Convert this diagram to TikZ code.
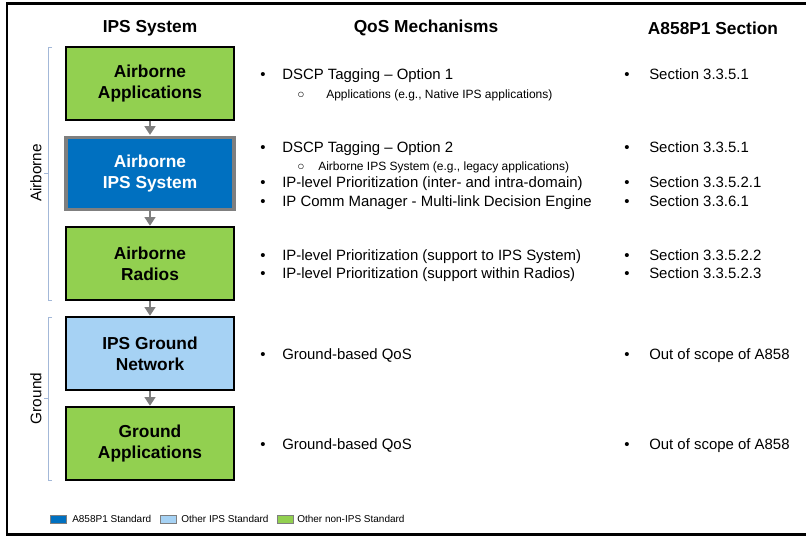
\documentclass[tikz,border=0pt]{standalone}
\usepackage{fontspec}
\setmainfont{Liberation Sans}
\usetikzlibrary{arrows.meta}
\definecolor{gfill}{HTML}{92D050}
\definecolor{bfill}{HTML}{0070C0}
\definecolor{lbfill}{HTML}{A6D2F4}
\definecolor{brk}{HTML}{A3B8D8}
\definecolor{arr}{HTML}{7F7F7F}
\begin{document}
\begin{tikzpicture}[x=0.75pt,y=-0.75pt,
  sysbox/.style={draw=black,line width=1.1pt,minimum width=126pt,minimum height=54.5pt,
     align=center,font=\fontsize{13}{16}\selectfont\bfseries,inner sep=0pt},
  hdr/.style={font=\fontsize{13}{16}\selectfont\bfseries,anchor=center},
  item/.style={anchor=west,font=\fontsize{11.2}{13}\selectfont,inner sep=0pt,text height=1.6ex,text depth=.35ex},
  subitem/.style={anchor=west,font=\fontsize{9}{11}\selectfont,inner sep=0pt,text height=1.6ex,text depth=.35ex},
  flow/.style={draw=arr,line width=2.2pt,-{Triangle[length=6.5pt,width=8pt]},shorten >=0.5pt},
  brace/.style={draw=brk,line width=0.6pt},
  side/.style={font=\fontsize{11.5}{13}\selectfont,rotate=90,anchor=center},
  leg/.style={draw=arr,line width=0.6pt,minimum width=12pt,minimum height=6pt,inner sep=0pt},
  legtxt/.style={anchor=west,font=\fontsize{7.5}{9}\selectfont,inner sep=0pt}]
\useasboundingbox (0,0) rectangle (806,537);
\fill[white] (0,0) rectangle (806,537);
% frame
\draw[line width=1.6pt] (806,3.5) -- (7,3.5) -- (7,534.5) -- (806,534.5);
% headers
\node[hdr] (h1) at (150,28) {IPS System};
\node[hdr] (h2) at (426,28) {QoS Mechanisms};
\node[hdr] (h3) at (713,28) {A858P1 Section};
% boxes
\node[sysbox,fill=gfill] (b1) at (150,83.5) {Airborne\\Applications};
\node[sysbox,fill=bfill,draw=arr,line width=2.4pt,text=white] (b2) at (150,173.5) {Airborne\\IPS System};
\node[sysbox,fill=gfill] (b3) at (150,263.5) {Airborne\\Radios};
\node[sysbox,fill=lbfill] (b4) at (150,353.5) {IPS Ground\\Network};
\node[sysbox,fill=gfill] (b5) at (150,443.5) {Ground\\Applications};
\draw[flow] (b1.south) -- (b2.north);
\draw[flow] (b2.south) -- (b3.north);
\draw[flow] (b3.south) -- (b4.north);
\draw[flow] (b4.south) -- (b5.north);
% brackets
\draw[brace] (52,47) -- (48,47) -- (48,300) -- (52,300);
\draw[brace] (48,173) -- (44,173);
\node[side] (air) at (36,173) {Airborne};
\draw[brace] (52,317) -- (48,317) -- (48,480) -- (52,480);
\draw[brace] (48,398.5) -- (44,398.5);
\node[side] (gnd) at (36,398.5) {Ground};
% middle column
\foreach \y/\t [count=\i] in {75/{DSCP Tagging – Option 1},148/{DSCP Tagging – Option 2},
  183/{IP-level Prioritization (inter- and intra-domain)},202/{IP Comm Manager - Multi-link Decision Engine},
  256/{IP-level Prioritization (support to IPS System)},274/{IP-level Prioritization (support within Radios)},
  355/{Ground-based QoS},445/{Ground-based QoS}}{
  \node[item] (mb\i) at (260,\y) {•};
  \node[item] (m\i) at (282,\y) {\t};
}
\node[subitem] (so1) at (297,94) {○};
\node[subitem] (s1) at (326,94) {Applications (e.g., Native IPS applications)};
\node[subitem] (so2) at (297,166) {○};
\node[subitem] (s2) at (318,166) {Airborne IPS System (e.g., legacy applications)};
% right column
\foreach \y/\t [count=\i] in {75/{Section 3.3.5.1},148/{Section 3.3.5.1},183/{Section 3.3.5.2.1},
  202/{Section 3.3.6.1},256/{Section 3.3.5.2.2},274/{Section 3.3.5.2.3},
  355/{Out of scope of A858},445/{Out of scope of A858}}{
  \node[item] (rb\i) at (624,\y) {•};
  \node[item] (r\i) at (649,\y) {\t};
}
% legend
\node[leg,fill=bfill] (l1) at (58,519) {};
\node[legtxt] (lt1) at (72,519) {A858P1 Standard};
\node[leg,fill=lbfill] (l2) at (168.5,519) {};
\node[legtxt] (lt2) at (181,519) {Other IPS Standard};
\node[leg,fill=gfill] (l3) at (285,519) {};
\node[legtxt] (lt3) at (297,519) {Other non-IPS Standard};
\end{tikzpicture}
\end{document}
